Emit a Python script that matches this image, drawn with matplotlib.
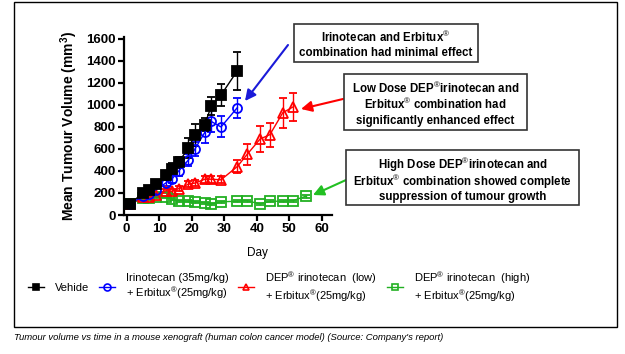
import matplotlib
matplotlib.use('Agg')
import matplotlib.pyplot as plt
from matplotlib import patches
from matplotlib.lines import Line2D

plt.rcParams['font.family'] = ['Liberation Sans', 'DejaVu Sans']
plt.rcParams['mathtext.fontset'] = 'custom'
plt.rcParams['mathtext.rm'] = 'Liberation Sans'
plt.rcParams['mathtext.bf'] = 'Liberation Sans:bold'

# data
veh_days = [1, 5, 7, 9, 12, 14, 16, 19, 21, 24, 26, 29, 34]
veh_vals = [100, 200, 230, 280, 360, 420, 480, 610, 730, 820, 990, 1090, 1310]
veh_err = [10, 20, 25, 25, 40, 50, 50, 90, 100, 60, 80, 100, 170]

iri_days = [1, 5, 7, 9, 12, 14, 16, 19, 21, 24, 26, 29, 34]
iri_vals = [100, 170, 195, 230, 290, 330, 400, 500, 600, 750, 850, 800, 975]
iri_err = [10, 20, 25, 30, 30, 40, 50, 55, 60, 100, 100, 95, 90]

low_days = [1, 5, 7, 9, 12, 14, 16, 19, 21, 24, 26, 29, 34, 37, 41, 44, 48, 51]
low_vals = [100, 160, 165, 180, 220, 215, 240, 280, 290, 325, 325, 320, 440, 550, 690, 730, 930, 980]
low_err = [10, 15, 15, 20, 20, 20, 20, 25, 25, 30, 30, 30, 60, 95, 115, 110, 135, 130]

high_days = [1, 5, 7, 9, 12, 14, 16, 19, 21, 24, 26, 29, 34, 37, 41, 44, 48, 51, 55]
high_vals = [100, 150, 150, 165, 160, 145, 130, 125, 120, 110, 100, 120, 125, 130, 100, 125, 125, 130, 170]
high_err = [10, 10, 10, 15, 10, 10, 10, 10, 10, 10, 10, 10, 10, 10, 10, 10, 10, 10, 15]

y_ticks = [0, 200, 400, 600, 800, 1000, 1200, 1400, 1600]
x_ticks = [0, 10, 20, 30, 40, 50, 60]

W, H = 625, 354
fig = plt.figure(figsize=(W / 100, H / 100), dpi=100)
ax = fig.add_axes([124 / W, 1 - 215 / H, (331.7 - 124) / W, (215 - 36.7) / H])

green = '#22b022'
series = [
    (high_days, high_vals, high_err, 's', green, 'none', 'DEP$^{®}$ irinotecan  (high)\n+ Erbitux$^{®}$(25mg/kg)'),
    (low_days, low_vals, low_err, '^', 'red', 'none', 'DEP$^{®}$ irinotecan  (low)\n+ Erbitux$^{®}$(25mg/kg)'),
    (iri_days, iri_vals, iri_err, 'o', 'blue', 'none', 'Irinotecan (35mg/kg)\n+ Erbitux$^{®}$(25mg/kg)'),
    (veh_days, veh_vals, veh_err, 's', 'black', 'black', 'Vehide'),
]
proxies = []
for d, v, e, m, c, fc, lab in series:
    ax.errorbar(d, v, yerr=e, fmt='-' + m, color=c, mfc=fc, mec=c, ms=6.5,
                mew=1.3, lw=1, elinewidth=1, capsize=3, capthick=1, clip_on=False)
    proxies.append(Line2D([], [], color=c, marker=m, mfc=fc, mec=c, ms=5, mew=1.2, lw=1, label=lab))

ax.set_xlim(-0.8, 63)
ax.set_ylim(0, 1620)
ax.set_xticks(x_ticks)
ax.set_yticks(y_ticks)
for s in ['top', 'right']:
    ax.spines[s].set_visible(False)
for s in ['left', 'bottom']:
    ax.spines[s].set_linewidth(1.6)
ax.tick_params(width=1.6, length=4, labelsize=9.5, pad=2)
for t in ax.get_xticklabels() + ax.get_yticklabels():
    t.set_fontweight('bold')
ax.set_ylabel('Mean Tumour Volume (mm$^{\\mathbf{3}}$)', fontsize=10, fontweight='bold', labelpad=4)
ax.set_xlabel('Day', fontsize=8.5)
ax.xaxis.set_label_coords((257 - 124) / (331.7 - 124), -(246.7 - 215) / (215 - 36.7))

# legend
proxies = proxies[::-1]
fig.legend(proxies, [p.get_label() for p in proxies], loc='center', bbox_to_anchor=(279 / W, 1 - 287 / H),
           ncol=4, frameon=False, fontsize=8, handlelength=1.4, handletextpad=1.0,
           columnspacing=0.9, labelspacing=0.3)

# annotation boxes: (left, top, right, bottom) in pixels, line centres
boxes = [
    ((294, 24, 478, 62), [(36, 'Irinotecan and Erbitux$^{®}$'), (51, 'combination had minimal effect')]),
    ((344, 74, 527, 130), [(87, 'Low Dose DEP$^{®}$irinotecan and'), (103, 'Erbitux$^{®}$ combination had'),
                           (119, 'significantly enhanced effect')]),
    ((346, 150, 579, 205), [(162, 'High Dose DEP$^{®}$irinotecan and'), (179, 'Erbitux$^{®}$ combination showed complete'),
                            (195.5, 'suppression of tumour growth')]),
]
for (l, t, r, b), lines in boxes:
    fig.add_artist(patches.Rectangle((l / W, 1 - b / H), (r - l) / W, (b - t) / H,
                                     transform=fig.transFigure, fc='white', ec='#333333', lw=1.2))
    for y, s in lines:
        fig.text((l + r) / 2 / W, 1 - y / H, s, ha='center', va='center_baseline',
                 fontsize=8.3, fontweight='bold')

# arrows
arrows = [((288, 45), (245, 101), '#1a1ad8'), ((343, 99), (301, 109), 'red'), ((346, 180), (313, 195), '#22c022')]
for (x0, y0), (x1, y1), c in arrows:
    ax.annotate('', xy=(x1, H - y1), xytext=(x0, H - y0), xycoords='figure pixels',
                textcoords='figure pixels',
                arrowprops=dict(arrowstyle='-|>', color=c, lw=1.5, mutation_scale=16,
                                shrinkA=0, shrinkB=0))

# outer frame and caption
fig.add_artist(patches.Rectangle((14 / W, 1 - 327 / H), (617 - 14) / W, (327 - 2) / H,
                                 transform=fig.transFigure, fill=False, ec='black', lw=1))
fig.text(14 / W, 1 - 338 / H, "Tumour volume vs time in a mouse xenograft (human colon cancer model) (Source: Company's report)",
         ha='left', va='center', fontsize=6.8, style='italic')

fig.savefig('out.png', dpi=100)
